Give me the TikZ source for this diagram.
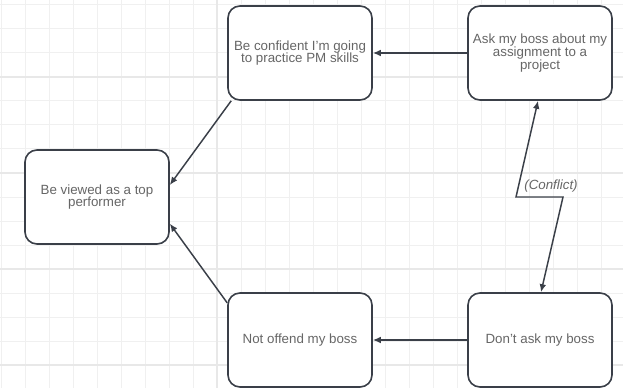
\documentclass[tikz,border=0pt]{standalone}
\usepackage{fontspec}
\setmainfont{Liberation Sans}
\usetikzlibrary{arrows.meta}
\definecolor{gridminor}{HTML}{F0F0F0}
\definecolor{gridmajor}{HTML}{E8E8E8}
\definecolor{edge}{HTML}{3A3F48}
\definecolor{txt}{HTML}{666666}
\begin{document}
\begin{tikzpicture}[x=0.75pt,y=-0.75pt,
  box/.style={draw=edge, line width=1.2pt, rounded corners=9pt, fill=white,
    minimum width=108pt, minimum height=70.5pt, align=center, text=txt,
    font=\fontsize{10}{9.6}\selectfont, inner sep=0pt},
  arr/.style={draw=edge, line width=1.1pt, -{Latex[length=6pt,width=5pt]}},
  dbl/.style={draw=edge, line width=1.1pt, {Latex[length=6pt,width=5pt]}-{Latex[length=6pt,width=5pt]}, line join=miter},
  lbl/.style={font=\itshape\fontsize{10}{12}\selectfont, text=txt, inner sep=1pt}]
\useasboundingbox (0,0) rectangle (623,388);
\fill[white] (0,0) rectangle (623,388);
% grid
\foreach \i in {0,...,25} \draw[gridminor, line width=0.75pt] (1+24*\i,0) -- (1+24*\i,388);
\foreach \j in {0,...,16} \draw[gridminor, line width=0.75pt] (0,5+24*\j) -- (623,5+24*\j);
\foreach \y in {77,173,269,365} \draw[gridmajor, line width=0.9pt] (0,\y) -- (623,\y);
\foreach \x in {217} \draw[gridmajor, line width=0.9pt] (\x,0) -- (\x,388);
% nodes
\node[box] (a) at (300,53) {Be confident I'm going\\to practice PM skills};
\node[box] (b) at (540,53) {Ask my boss about my\\assignment to a\\project};
\node[box] (c) at (97,197) {Be viewed as a top\\performer};
\node[box] (d) at (300,340) {Not offend my boss};
\node[box] (e) at (540,340) {Don't ask my boss};
% connectors
\draw[arr] (b) -- (a);
\draw[arr] (e) -- (d);
\draw[arr] ([xshift=3pt]a.south west) -- ([yshift=9pt]c.east);
\draw[arr] ([yshift=-8pt]d.north west) -- ([yshift=-20pt]c.east);
\coordinate (k1) at (516,197);
\coordinate (k2) at (563,197);
\draw[dbl] ([xshift=-1.5pt]b.south) -- (k1) -- (k2) -- ([xshift=0.75pt]e.north);
\node[lbl] (cf) at (551,186) {(Conflict)};
\end{tikzpicture}
\end{document}
